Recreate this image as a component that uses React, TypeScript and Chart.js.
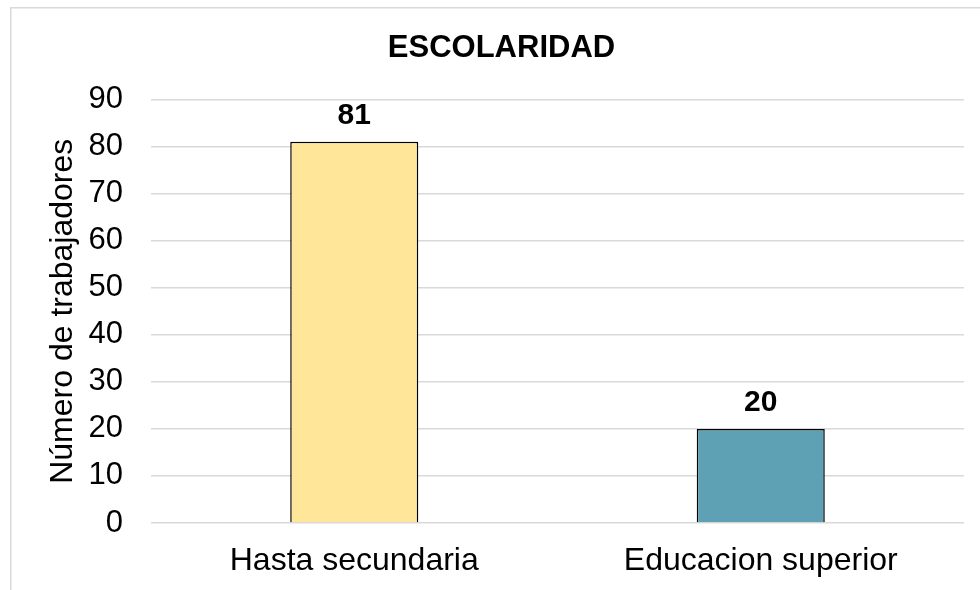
import React, { useEffect, useRef } from "react";
import { Chart, registerables } from "chart.js";

Chart.register(...registerables);

const categories = ["Hasta secundaria", "Educacion superior"];
const values = [81, 20];
const barColors = ["#FFE699", "#5FA1B4"];
const chartTitle = "ESCOLARIDAD";
const yAxisTitle = "Número de trabajadores";
const yMin = 0;
const yMax = 90;
const yStep = 10;

const FONT = "'Liberation Sans', Arial, Helvetica, sans-serif";

const frameBorder = {
  id: "frameBorder",
  beforeDraw(chart: any) {
    const ctx = chart.ctx;
    ctx.save();
    ctx.strokeStyle = "#d9d9d9";
    ctx.lineWidth = 1.5;
    ctx.strokeRect(10.75, 7.75, 1200, 1200);
    ctx.restore();
  },
};

const valueLabels = {
  id: "valueLabels",
  afterDatasetsDraw(chart: any) {
    const ctx = chart.ctx;
    const meta = chart.getDatasetMeta(0);
    const data = chart.data.datasets[0].data;
    ctx.save();
    ctx.font = `bold 30px ${FONT}`;
    ctx.fillStyle = "#000";
    ctx.textAlign = "center";
    ctx.textBaseline = "alphabetic";
    meta.data.forEach((bar: any, i: number) => {
      ctx.fillText(String(data[i]), bar.x, bar.y - 18);
    });
    ctx.restore();
  },
};

export default function App() {
  const ref = useRef<HTMLCanvasElement | null>(null);
  useEffect(() => {
    if (!ref.current) return;
    const chart = new Chart(ref.current, {
      type: "bar",
      data: {
        labels: categories,
        datasets: [
          {
            data: values,
            backgroundColor: barColors,
            borderColor: "#000",
            borderWidth: 1.5,
            barPercentage: 0.315,
            categoryPercentage: 1,
          },
        ],
      },
      options: {
        animation: false,
        responsive: false,
        devicePixelRatio: 1,
        layout: { padding: { left: 39, right: 16, top: 0, bottom: 0 } },
        plugins: {
          legend: { display: false },
          tooltip: { enabled: false },
          title: {
            display: true,
            text: chartTitle,
            color: "#000",
            font: { family: FONT, size: 31, weight: "bold" },
            padding: { top: 30, bottom: 32.3 },
          },
        },
        scales: {
          x: {
            grid: { display: false, drawTicks: false },
            border: { display: false },
            ticks: {
              color: "#000",
              font: { family: FONT, size: 32 },
              padding: 19,
              maxRotation: 0,
            },
            afterFit: (s: any) => {
              s.height = 67;
            },
          },
          y: {
            min: yMin,
            max: yMax,
            grid: { color: "#d9d9d9", lineWidth: 1.5, drawTicks: false },
            border: { display: false },
            ticks: {
              stepSize: yStep,
              color: "#000",
              font: { family: FONT, size: 31 },
              padding: 28,
            },
            title: {
              display: true,
              text: yAxisTitle,
              color: "#000",
              font: { family: FONT, size: 32 },
              padding: { top: 4.8, bottom: 0 },
            },
            afterFit: (s: any) => {
              s.width = 112;
            },
          },
        },
      },
      plugins: [frameBorder, valueLabels],
    });
    return () => chart.destroy();
  }, []);
  return (
    <div style={{ position: "fixed", left: 0, top: 0, width: 980, height: 590, background: "#fff" }}>
      <canvas ref={ref} width={980} height={590} style={{ display: "block" }} />
    </div>
  );
}
